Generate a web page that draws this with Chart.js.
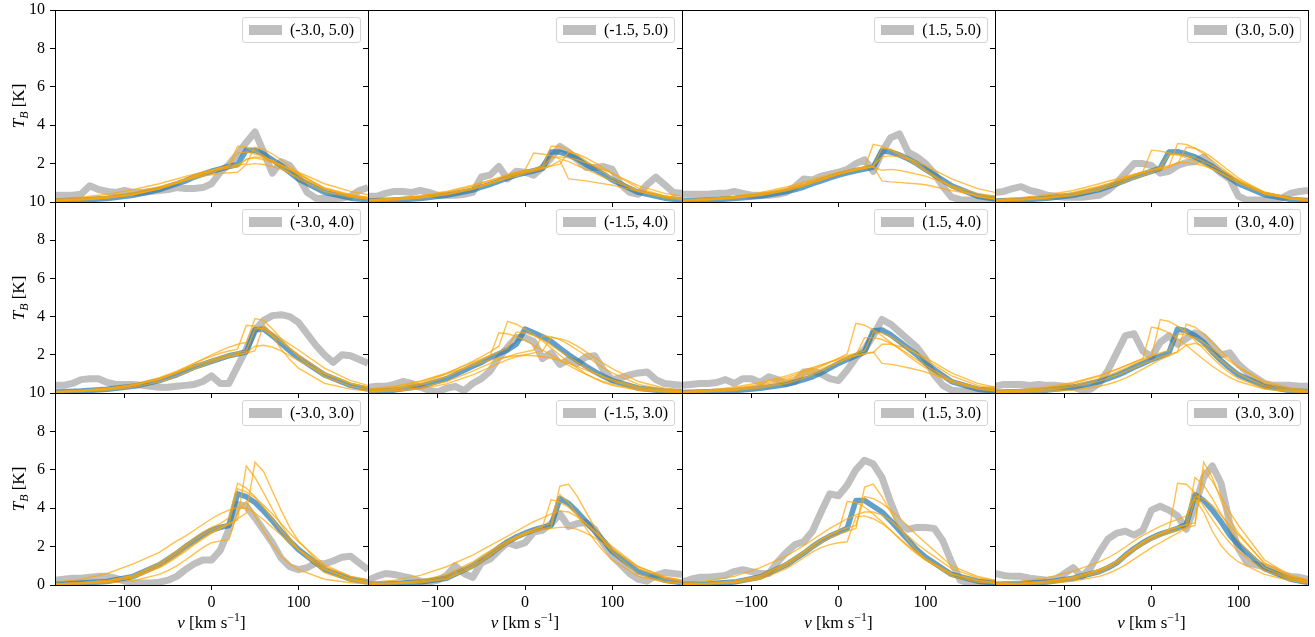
<!DOCTYPE html>
<html>
<head>
<meta charset="utf-8">
<title>Brightness temperature spectra</title>
<script src="https://cdn.jsdelivr.net/npm/chart.js@4.4.1/dist/chart.umd.min.js"></script>
<style>
html, body { margin: 0; padding: 0; background: #fff; }
body { position: relative; width: 1315px; height: 637px; overflow: hidden; font-family: "Liberation Serif", "DejaVu Serif", serif; color: #000; }
canvas { position: absolute; }
.lg { position: absolute; box-sizing: border-box; height: 26px; padding: 0 6px; display: flex; align-items: center; border: 1px solid #d4d4d4; border-radius: 3px; background: rgba(255,255,255,0.8); font-size: 16px; white-space: nowrap; z-index: 5; }
.lg .patch { width: 33px; height: 10px; background: #bfbfbf; margin-right: 8px; }
.yl { position: absolute; left: 18px; transform: translate(-50%, -50%) rotate(-90deg); font-size: 17px; white-space: nowrap; z-index: 5; line-height: 1; }
.xl { position: absolute; top: 622px; transform: translate(-50%, -50%); font-size: 17px; white-space: nowrap; z-index: 5; line-height: 1; }
sub, sup { font-size: 70%; line-height: 0; }
</style>
</head>
<body>
<script>
// velocity grids
const vData = [-180,-170,-160,-150,-140,-130,-120,-110,-100,-90,-80,-70,-60,-50,-40,-30,-20,-10,0,10,20,30,40,50,60,70,80,90,100,110,120,130,140,150,160,170,180];
const vModel = [-180,-150,-120,-90,-60,-50,-40,-30,-20,-10,0,10,20,30,40,50,60,70,80,90,100,130,160,180];
const xTicks = [-100, 0, 100];
const yTicks = [0, 2, 4, 6, 8, 10];
const positions = ["(-3.0, 5.0)", "(-1.5, 5.0)", "(1.5, 5.0)", "(3.0, 5.0)",
                   "(-3.0, 4.0)", "(-1.5, 4.0)", "(1.5, 4.0)", "(3.0, 4.0)",
                   "(-3.0, 3.0)", "(-1.5, 3.0)", "(1.5, 3.0)", "(3.0, 3.0)"];

// observed spectra (grey)
const obs00 = [0.35,0.35,0.35,0.4,0.85,0.65,0.55,0.5,0.6,0.5,0.5,0.55,0.6,0.65,0.75,0.7,0.7,0.75,0.95,1.55,1.95,2.5,3.1,3.65,2.6,1.5,2.1,1.9,1.3,0.5,0.2,0.18,0.18,0.2,0.3,0.6,0.75];
const obs01 = [0.3,0.3,0.45,0.55,0.55,0.5,0.6,0.5,0.35,0.35,0.35,0.4,0.5,1.3,1.4,1.85,1.2,1.6,1.55,1.4,1.8,2.3,2.9,2.6,2.2,1.8,1.8,1.85,1.7,0.9,0.5,0.4,0.9,1.3,0.9,0.5,0.45];
const obs02 = [0.4,0.4,0.4,0.4,0.45,0.45,0.55,0.45,0.35,0.35,0.35,0.4,0.5,0.8,1.2,1.15,1.35,1.45,1.55,1.7,2.0,2.2,1.6,2.6,3.35,3.55,2.6,2.35,2.0,1.5,0.8,0.25,0.12,0.1,0.1,0.12,0.2];
const obs03 = [0.5,0.55,0.7,0.8,0.6,0.5,0.35,0.3,0.25,0.25,0.25,0.3,0.35,0.6,1.0,1.5,2.0,2.0,1.9,1.5,1.6,1.9,2.05,2.1,2.35,1.9,1.5,1.2,0.3,0.1,0.1,0.1,0.12,0.2,0.45,0.55,0.6];
const obs10 = [0.4,0.4,0.5,0.7,0.75,0.75,0.55,0.45,0.45,0.45,0.4,0.35,0.3,0.3,0.35,0.4,0.45,0.6,0.9,0.5,0.5,1.4,2.3,3.3,3.8,4.05,4.1,4.0,3.7,3.1,2.5,2.0,1.6,2.0,1.95,1.75,1.55];
const obs11 = [0.3,0.35,0.35,0.45,0.6,0.5,0.3,0.15,0.05,0.25,0.35,0.12,0.5,0.75,1.15,1.85,2.4,2.9,2.9,2.7,1.8,2.1,1.5,1.75,1.55,1.9,1.95,1.2,0.7,0.8,0.95,1.05,1.1,0.7,0.5,0.45,0.4];
const obs12 = [0.4,0.45,0.5,0.5,0.55,0.7,0.5,0.75,0.75,0.55,0.85,0.7,0.5,0.6,1.1,1.15,1.0,0.75,0.65,1.2,1.85,2.3,3.0,3.85,3.6,3.2,2.8,2.4,1.8,0.95,0.4,0.15,0.1,0.1,0.1,0.15,0.2];
const obs13 = [0.35,0.45,0.45,0.45,0.4,0.45,0.4,0.4,0.35,0.3,0.15,0.2,0.5,1.2,2.1,3.0,3.1,2.2,1.9,2.65,3.0,2.55,2.85,3.15,2.95,2.5,2.0,2.1,1.5,1.1,0.8,0.5,0.4,0.4,0.4,0.35,0.35];
const obs20 = [0.25,0.3,0.35,0.35,0.4,0.45,0.45,0.35,0.2,0.1,0.1,0.1,0.15,0.25,0.45,0.8,1.1,1.3,1.3,1.8,2.9,4.2,4.1,3.5,2.85,2.2,1.4,0.95,0.8,0.9,1.15,1.1,1.25,1.45,1.5,1.15,0.8];
const obs21 = [0.25,0.45,0.6,0.55,0.45,0.35,0.2,0.15,0.25,0.5,1.0,0.6,0.4,1.15,1.35,1.8,2.2,2.05,2.2,2.75,2.85,3.2,3.7,3.05,3.2,3.25,2.9,2.15,1.5,1.05,0.6,0.3,0.2,0.5,0.65,0.6,0.55];
const obs22 = [0.15,0.3,0.4,0.4,0.45,0.5,0.7,0.8,0.7,0.6,0.6,1.2,1.7,2.1,2.25,2.8,3.8,4.75,4.65,5.2,6.0,6.5,6.3,5.6,4.3,3.2,2.9,3.0,3.0,2.95,2.3,1.2,0.25,0.1,0.1,0.1,0.1];
const obs23 = [0.6,0.5,0.45,0.45,0.35,0.3,0.25,0.3,0.6,0.9,0.45,0.9,1.7,2.4,2.7,2.8,2.6,2.85,3.9,4.1,3.9,3.6,2.9,4.1,5.6,6.2,5.3,3.2,1.9,1.15,1.05,0.95,0.8,0.55,0.45,0.4,0.3];

// best model (blue)
const fit00 = [0.05,0.1,0.18,0.35,0.65,0.8,0.95,1.1,1.3,1.45,1.6,1.72,1.85,1.95,2.7,2.7,2.5,2.2,1.9,1.55,1.2,0.5,0.2,0.12];
const fit01 = [0.05,0.1,0.18,0.35,0.62,0.78,0.92,1.08,1.25,1.4,1.52,1.63,1.75,2.6,2.6,2.45,2.25,1.95,1.7,1.45,1.15,0.5,0.2,0.1];
const fit02 = [0.05,0.1,0.18,0.3,0.55,0.65,0.78,0.95,1.1,1.25,1.4,1.52,1.63,1.72,1.82,2.65,2.6,2.45,2.25,2.0,1.7,0.85,0.3,0.15];
const fit03 = [0.05,0.1,0.2,0.35,0.65,0.8,0.95,1.12,1.3,1.45,1.6,1.75,2.6,2.62,2.5,2.35,2.1,1.85,1.55,1.25,0.95,0.38,0.13,0.08];
const fit10 = [0.05,0.1,0.2,0.35,0.65,0.8,0.95,1.15,1.35,1.5,1.65,1.8,1.95,2.05,2.15,3.3,3.35,3.0,2.6,2.2,1.85,0.95,0.4,0.2];
const fit11 = [0.08,0.15,0.35,0.75,1.4,1.6,1.85,2.05,2.25,2.55,3.35,3.15,2.95,2.7,2.35,2.0,1.7,1.4,1.12,0.87,0.65,0.25,0.1,0.06];
const fit12 = [0.03,0.06,0.12,0.25,0.45,0.57,0.7,0.85,1.05,1.3,1.55,1.75,1.95,2.15,3.25,3.3,3.05,2.7,2.35,2.0,1.55,0.6,0.2,0.1];
const fit13 = [0.04,0.08,0.15,0.3,0.6,0.75,0.92,1.12,1.35,1.55,1.75,1.92,2.1,3.35,3.25,3.0,2.65,2.15,1.7,1.3,0.95,0.35,0.12,0.07];
const fit20 = [0.05,0.1,0.18,0.45,1.05,1.35,1.65,2.0,2.3,2.6,2.85,3.0,3.1,4.75,4.6,4.3,3.85,3.35,2.8,2.3,1.85,0.8,0.3,0.15];
const fit21 = [0.04,0.08,0.15,0.35,1.0,1.3,1.6,1.95,2.25,2.5,2.7,2.87,3.0,3.1,4.5,4.25,3.8,3.3,2.8,2.3,1.75,0.7,0.25,0.12];
const fit22 = [0.03,0.07,0.15,0.42,1.05,1.35,1.65,2.0,2.3,2.55,2.75,2.95,4.4,4.4,4.1,3.8,3.35,2.85,2.35,1.85,1.45,0.55,0.2,0.1];
const fit23 = [0.04,0.08,0.15,0.35,0.7,0.9,1.15,1.55,1.9,2.2,2.45,2.65,2.8,2.95,3.15,4.7,4.4,3.9,3.3,2.6,2.1,0.85,0.3,0.13];

// posterior draws (orange)
const draws00 = [
  [0.08,0.14,0.25,0.45,0.75,0.9,1.05,1.2,1.38,1.52,1.65,1.78,1.9,2.9,2.85,2.65,2.4,2.1,1.8,1.5,1.2,0.55,0.25,0.15],
  [0.15,0.25,0.4,0.65,0.95,1.08,1.2,1.33,1.45,1.55,1.65,1.72,1.78,1.82,2.25,2.3,2.2,2.05,1.9,1.72,1.55,0.95,0.55,0.38],
  [0.1,0.18,0.3,0.5,0.8,0.92,1.03,1.15,1.25,1.35,1.42,1.48,1.52,1.55,1.95,2.0,1.95,1.85,1.7,1.5,1.3,0.7,0.35,0.22],
  [0.06,0.11,0.2,0.38,0.68,0.82,0.97,1.12,1.28,1.42,1.55,1.68,1.8,1.9,2.0,2.85,2.75,2.5,2.2,1.85,1.5,0.7,0.3,0.18],
  [0.07,0.13,0.22,0.4,0.7,0.85,1.0,1.15,1.32,1.48,1.62,1.75,1.88,2.55,2.6,2.5,2.35,2.15,1.92,1.68,1.42,0.75,0.38,0.25],
  [0.05,0.1,0.2,0.38,0.7,0.85,1.0,1.17,1.35,1.5,1.65,1.78,1.88,1.95,2.2,2.35,2.3,2.15,1.95,1.7,1.45,0.7,0.3,0.18]
];
const draws01 = [
  [0.06,0.12,0.22,0.4,0.7,0.85,1.0,1.15,1.32,1.47,1.6,1.72,1.85,2.9,2.9,2.7,2.45,2.15,1.85,1.55,1.25,0.55,0.22,0.12],
  [0.1,0.18,0.3,0.5,0.82,0.97,1.12,1.27,1.42,1.55,1.67,2.55,2.5,2.4,2.25,2.1,1.9,1.7,1.5,1.3,1.1,0.6,0.3,0.18],
  [0.08,0.15,0.27,0.45,0.72,0.85,0.98,1.1,1.22,1.35,1.48,1.6,1.72,1.9,2.15,1.2,1.15,1.1,1.02,0.95,0.88,0.55,0.3,0.2],
  [0.12,0.2,0.33,0.55,0.88,1.0,1.13,1.25,1.38,1.5,1.6,1.7,1.78,2.3,2.35,2.3,2.2,2.05,1.88,1.68,1.48,0.85,0.45,0.3],
  [0.05,0.1,0.2,0.37,0.66,0.8,0.95,1.1,1.27,1.42,1.55,1.66,1.77,1.87,1.97,2.6,2.5,2.3,2.05,1.78,1.5,0.72,0.32,0.18]
];
const draws02 = [
  [0.06,0.12,0.22,0.36,0.62,0.74,0.88,1.03,1.18,1.33,1.47,1.6,1.72,1.82,3.0,2.9,2.7,2.45,2.2,1.9,1.6,0.75,0.28,0.14],
  [0.1,0.18,0.3,0.48,0.78,0.9,1.03,1.17,1.3,1.43,1.55,1.65,1.74,1.82,1.9,2.35,2.4,2.35,2.25,2.1,1.9,1.2,0.7,0.5],
  [0.08,0.14,0.25,0.42,0.7,0.82,0.95,1.08,1.22,1.35,1.47,1.57,1.66,1.74,1.82,1.65,1.7,1.65,1.55,1.45,1.35,0.85,0.45,0.3],
  [0.07,0.13,0.23,0.4,0.66,0.78,0.9,1.04,1.18,1.32,1.45,1.57,1.68,1.78,1.85,1.1,1.05,1.02,0.98,0.95,0.9,0.6,0.35,0.22],
  [0.05,0.1,0.19,0.33,0.58,0.7,0.83,0.98,1.13,1.28,1.42,1.55,1.67,1.77,1.87,2.8,2.75,2.55,2.3,2.0,1.68,0.8,0.3,0.15]
];
const draws03 = [
  [0.07,0.13,0.25,0.45,0.78,0.93,1.08,1.25,1.42,1.58,2.7,2.65,2.55,2.45,2.3,2.15,1.95,1.72,1.48,1.22,0.98,0.42,0.16,0.09],
  [0.05,0.1,0.19,0.34,0.62,0.76,0.9,1.05,1.22,1.38,1.53,1.68,1.82,3.05,3.0,2.8,2.5,2.15,1.8,1.45,1.12,0.42,0.15,0.08],
  [0.12,0.22,0.38,0.6,0.95,1.08,1.2,1.33,1.45,1.55,1.65,1.75,1.82,2.05,2.05,2.0,1.88,1.72,1.52,1.3,1.08,0.5,0.2,0.12],
  [0.08,0.15,0.28,0.5,0.82,0.96,1.1,1.25,1.4,1.55,1.68,1.8,2.45,2.5,2.42,2.3,2.12,1.9,1.66,1.4,1.15,0.52,0.22,0.13],
  [0.06,0.11,0.21,0.38,0.7,0.85,1.0,1.17,1.35,1.5,1.65,1.78,1.9,2.0,2.85,2.8,2.6,2.3,1.95,1.6,1.25,0.48,0.17,0.1]
];
const draws10 = [
  [0.05,0.1,0.2,0.38,0.72,0.9,1.1,1.32,1.55,1.78,2.0,2.2,2.4,2.55,2.65,3.9,3.8,3.35,2.85,2.35,1.9,0.85,0.35,0.18],
  [0.08,0.14,0.25,0.45,0.8,0.97,1.15,1.35,1.55,1.75,1.92,2.08,2.2,2.3,3.55,3.5,3.3,3.0,2.7,2.35,2.0,1.05,0.5,0.3],
  [0.06,0.12,0.22,0.4,0.72,0.88,1.05,1.22,1.4,1.55,1.7,1.82,1.92,2.0,2.1,2.45,2.5,2.4,2.2,1.95,1.7,1.0,0.5,0.3],
  [0.04,0.08,0.16,0.3,0.58,0.72,0.88,1.05,1.25,1.42,1.6,1.75,1.9,2.0,2.1,2.2,3.6,3.0,2.3,1.75,1.3,0.5,0.2,0.1],
  [0.07,0.13,0.24,0.42,0.75,0.9,1.07,1.25,1.43,1.6,1.75,1.9,2.02,2.12,2.2,3.35,3.4,3.15,2.85,2.55,2.25,1.3,0.65,0.4]
];
const draws11 = [
  [0.1,0.22,0.5,1.0,1.65,1.9,2.15,2.45,3.75,3.6,3.35,3.05,2.72,2.35,1.98,1.62,1.3,1.0,0.75,0.55,0.4,0.14,0.05,0.03],
  [0.15,0.3,0.6,1.05,1.6,1.78,1.95,3.15,3.1,2.95,2.75,2.5,2.25,2.0,1.72,1.45,1.2,0.98,0.78,0.6,0.45,0.18,0.07,0.04],
  [0.05,0.1,0.22,0.48,0.95,1.15,1.35,1.55,1.75,1.9,2.0,2.1,2.2,2.9,2.85,2.7,2.45,2.15,1.85,1.55,1.28,0.6,0.25,0.14],
  [0.2,0.35,0.62,1.0,1.45,1.6,1.72,1.82,1.9,1.95,1.98,1.95,1.9,1.82,1.7,1.55,1.38,1.2,1.02,0.85,0.7,0.32,0.14,0.08],
  [0.06,0.12,0.28,0.6,1.15,1.35,1.55,1.75,1.9,2.05,2.15,2.25,3.0,2.95,2.8,2.55,2.25,1.95,1.62,1.32,1.05,0.45,0.18,0.1],
  [0.1,0.2,0.42,0.85,1.5,1.72,1.95,2.15,2.35,3.2,3.15,3.0,2.78,2.5,2.2,1.9,1.6,1.32,1.06,0.83,0.63,0.25,0.1,0.06]
];
const draws12 = [
  [0.05,0.1,0.2,0.4,0.7,0.85,1.0,1.18,1.38,1.6,1.82,2.05,3.65,3.55,3.3,3.0,2.65,2.3,1.95,1.62,1.32,0.55,0.2,0.1],
  [0.06,0.12,0.24,0.45,0.8,0.95,1.1,1.27,1.45,1.63,1.8,1.95,2.08,2.2,3.2,3.15,2.95,2.65,2.35,2.05,1.75,0.9,0.4,0.22],
  [0.08,0.16,0.3,0.55,0.9,1.04,1.18,1.33,1.48,1.62,1.75,1.87,1.97,2.05,2.12,2.55,2.55,2.45,2.28,2.08,1.85,1.05,0.5,0.3],
  [0.04,0.08,0.16,0.32,0.6,0.74,0.9,1.06,1.25,1.45,1.63,1.8,1.95,2.07,2.15,1.55,1.5,1.42,1.32,1.22,1.1,0.65,0.3,0.18],
  [0.03,0.06,0.13,0.27,0.5,0.63,0.78,0.95,1.15,1.38,1.6,1.8,2.0,2.9,2.9,2.8,2.6,2.35,2.05,1.75,1.45,0.65,0.25,0.13]
];
const draws13 = [
  [0.05,0.1,0.2,0.4,0.75,0.92,1.1,1.3,1.52,1.72,1.9,3.85,3.75,3.5,3.15,2.75,2.3,1.85,1.42,1.05,0.75,0.25,0.08,0.04],
  [0.04,0.08,0.16,0.32,0.62,0.77,0.93,1.12,1.32,1.52,1.7,1.87,2.02,2.15,3.6,3.45,3.1,2.65,2.2,1.75,1.35,0.5,0.18,0.1],
  [0.07,0.14,0.27,0.5,0.88,1.05,1.22,1.42,1.62,1.8,3.45,3.35,3.15,2.85,2.5,2.12,1.75,1.4,1.1,0.82,0.6,0.2,0.07,0.04],
  [0.02,0.04,0.08,0.16,0.35,0.46,0.6,0.78,1.0,1.25,1.5,1.75,1.95,2.15,2.5,2.6,2.45,2.1,1.7,1.32,1.0,0.38,0.14,0.08],
  [0.1,0.18,0.32,0.55,0.92,1.08,1.25,1.43,1.62,1.8,1.95,2.1,2.22,3.1,3.05,2.9,2.65,2.32,1.98,1.65,1.35,0.6,0.25,0.14]
];
const draws20 = [
  [0.04,0.08,0.16,0.38,0.9,1.15,1.45,1.75,2.1,2.4,2.7,2.95,3.2,3.45,3.75,6.4,5.9,4.9,3.9,3.0,2.3,0.85,0.3,0.14],
  [0.04,0.08,0.16,0.4,0.95,1.22,1.52,1.85,2.15,2.45,2.75,2.95,3.15,3.4,6.2,5.6,4.8,3.95,3.15,2.45,1.85,0.65,0.22,0.1],
  [0.06,0.12,0.22,0.5,1.15,1.45,1.78,2.1,2.45,2.75,3.0,3.2,3.5,5.3,5.05,4.6,4.05,3.45,2.85,2.3,1.85,0.8,0.32,0.16],
  [0.15,0.3,0.6,1.1,1.7,2.0,2.3,2.55,2.85,3.15,3.45,3.7,3.9,4.05,4.0,3.75,3.4,3.0,2.6,2.2,1.85,0.95,0.45,0.28],
  [0.03,0.06,0.1,0.22,0.55,0.75,1.0,1.3,1.62,1.95,2.2,2.3,2.35,3.8,4.35,3.6,2.8,2.1,1.5,1.1,0.8,0.3,0.12,0.06],
  [0.06,0.12,0.22,0.48,1.05,1.35,1.66,2.0,2.32,2.62,2.88,3.05,3.2,5.0,4.85,4.55,4.15,3.7,3.2,2.7,2.25,1.05,0.45,0.25]
];
const draws21 = [
  [0.04,0.08,0.15,0.36,0.98,1.27,1.58,1.9,2.2,2.47,2.7,2.9,3.05,3.2,5.15,5.25,4.6,3.8,3.0,2.3,1.7,0.55,0.18,0.08],
  [0.05,0.1,0.2,0.45,1.1,1.4,1.7,2.0,2.28,2.52,2.72,2.88,3.02,4.45,4.3,4.05,3.65,3.2,2.75,2.3,1.9,0.85,0.35,0.18],
  [0.06,0.12,0.24,0.55,1.2,1.5,1.78,2.05,2.3,2.5,2.65,2.78,2.88,2.95,3.0,3.0,2.9,2.7,2.45,2.15,1.85,0.95,0.42,0.25],
  [0.12,0.25,0.5,0.95,1.55,1.8,2.05,2.3,2.55,2.8,3.05,3.3,3.5,3.7,3.85,3.8,3.55,3.2,2.8,2.4,2.0,0.95,0.42,0.25],
  [0.03,0.06,0.12,0.3,0.9,1.2,1.52,1.85,2.15,2.42,2.62,2.8,2.92,3.02,4.7,4.3,3.65,2.95,2.3,1.75,1.3,0.45,0.15,0.07]
];
const draws22 = [
  [0.03,0.06,0.13,0.38,1.0,1.3,1.6,1.92,2.2,2.45,2.65,2.8,2.95,5.1,5.25,4.6,3.8,3.0,2.35,1.8,1.35,0.45,0.15,0.08],
  [0.04,0.08,0.17,0.45,1.1,1.4,1.72,2.05,2.35,2.6,2.8,4.35,4.3,4.05,3.7,3.3,2.85,2.4,2.0,1.62,1.3,0.55,0.22,0.12],
  [0.02,0.05,0.1,0.3,0.85,1.12,1.42,1.72,1.95,2.1,2.2,2.25,3.55,3.6,3.45,3.2,2.85,2.45,2.05,1.7,1.38,0.6,0.25,0.13],
  [0.1,0.22,0.45,0.9,1.5,1.78,2.05,2.35,2.65,2.95,3.2,3.45,3.65,3.8,3.8,3.65,3.35,2.95,2.55,2.15,1.8,0.85,0.38,0.22],
  [0.05,0.1,0.2,0.5,1.15,1.45,1.75,2.08,2.38,2.62,2.82,2.98,3.1,4.6,4.5,4.25,3.9,3.5,3.05,2.6,2.2,1.0,0.45,0.25]
];
const draws23 = [
  [0.03,0.06,0.12,0.3,0.65,0.85,1.08,1.45,1.8,2.1,2.35,2.55,2.72,2.85,2.98,3.1,6.4,5.6,4.4,3.4,2.7,1.1,0.4,0.18],
  [0.05,0.1,0.2,0.42,0.8,1.0,1.25,1.6,1.95,2.25,2.5,2.7,2.88,3.02,3.15,5.6,5.2,4.5,3.7,2.95,2.3,0.9,0.35,0.16],
  [0.04,0.08,0.16,0.36,0.75,0.95,1.2,1.55,1.9,2.2,2.45,2.65,2.8,5.3,5.25,4.8,4.1,3.4,2.75,2.2,1.75,0.75,0.3,0.14],
  [0.02,0.04,0.08,0.2,0.45,0.6,0.8,1.05,1.35,1.65,1.95,2.2,2.45,2.7,2.95,4.5,3.8,2.8,2.05,1.55,1.2,0.55,0.22,0.1],
  [0.05,0.1,0.2,0.4,0.78,0.98,1.22,1.58,1.92,2.22,2.48,2.68,2.85,3.0,3.12,3.25,6.0,5.4,4.6,3.8,3.1,1.3,0.5,0.25],
  [0.1,0.2,0.38,0.72,1.2,1.42,1.68,1.98,2.3,2.58,2.82,3.05,3.25,3.42,3.6,4.6,4.5,4.15,3.65,3.1,2.6,1.15,0.48,0.25]
];

const panels = [
  { obs: obs00, fit: fit00, draws: draws00 }, { obs: obs01, fit: fit01, draws: draws01 },
  { obs: obs02, fit: fit02, draws: draws02 }, { obs: obs03, fit: fit03, draws: draws03 },
  { obs: obs10, fit: fit10, draws: draws10 }, { obs: obs11, fit: fit11, draws: draws11 },
  { obs: obs12, fit: fit12, draws: draws12 }, { obs: obs13, fit: fit13, draws: draws13 },
  { obs: obs20, fit: fit20, draws: draws20 }, { obs: obs21, fit: fit21, draws: draws21 },
  { obs: obs22, fit: fit22, draws: draws22 }, { obs: obs23, fit: fit23, draws: draws23 }
];

const FONT = '"Liberation Serif", "DejaVu Serif", serif';
const colEdges = [55, 368, 682, 995, 1308];
const rowEdges = [10, 202, 393, 585];
const PAD_L = 50, PAD_R = 10, PAD_T = 22, PAD_B = 40;

const fmt = v => v < 0 ? '\u2212' + (-v) : String(v);
const pts = (xs, ys) => xs.map((x, i) => ({ x: x, y: ys[i] }));

// draw the four spines of each axes box
const frame = {
  id: 'frame',
  afterDraw(chart) {
    const a = chart.chartArea, ctx = chart.ctx;
    ctx.save();
    ctx.strokeStyle = '#000';
    ctx.lineWidth = 1;
    ctx.strokeRect(a.left + 0.5, a.top + 0.5, a.right - a.left, a.bottom - a.top);
    ctx.restore();
  }
};

panels.forEach(function(p, k) {
  const r = Math.floor(k / 4), c = k % 4;
  const x0 = colEdges[c], x1 = colEdges[c + 1], y0 = rowEdges[r], y1 = rowEdges[r + 1];

  const cv = document.createElement('canvas');
  cv.width = PAD_L + (x1 - x0) + PAD_R;
  cv.height = PAD_T + (y1 - y0) + PAD_B;
  cv.style.left = (x0 - PAD_L) + 'px';
  cv.style.top = (y0 - PAD_T) + 'px';
  document.body.appendChild(cv);

  const datasets = [
    { data: pts(vData, p.obs), borderColor: '#bfbfbf', borderWidth: 7, borderJoinStyle: 'round', order: 3, clip: 0 },
    { data: pts(vModel, p.fit), borderColor: 'rgba(31,119,180,0.7)', borderWidth: 5.5, borderJoinStyle: 'round', order: 2, clip: 0 }
  ];
  p.draws.forEach(function(d) {
    datasets.push({ data: pts(vModel, d), borderColor: 'rgba(255,165,0,0.7)', borderWidth: 1.4, order: 1, clip: 0 });
  });

  new Chart(cv, {
    type: 'line',
    data: { datasets: datasets },
    options: {
      responsive: false,
      animation: false,
      devicePixelRatio: 1,
      layout: { padding: { left: 0, right: PAD_R, top: PAD_T, bottom: 0 } },
      plugins: { legend: { display: false }, tooltip: { enabled: false } },
      elements: { point: { radius: 0 }, line: { tension: 0, fill: false } },
      scales: {
        x: {
          type: 'linear', min: -180, max: 180,
          afterBuildTicks: s => { s.ticks = xTicks.map(v => ({ value: v })); },
          afterFit: s => { s.height = PAD_B; },
          ticks: { display: r === 2, padding: 3, color: '#000', autoSkip: false, maxRotation: 0,
                   font: { family: FONT, size: 16 }, callback: v => fmt(v) },
          grid: { display: true, drawOnChartArea: false, drawTicks: true, tickLength: 5, color: '#000', lineWidth: 1 },
          border: { display: false }
        },
        y: {
          type: 'linear', min: 0, max: 10,
          afterBuildTicks: s => { s.ticks = yTicks.map(v => ({ value: v })); },
          afterFit: s => { s.width = PAD_L; },
          ticks: { display: c === 0, padding: 5, color: '#000', autoSkip: false,
                   font: { family: FONT, size: 16 },
                   // the "0" of the upper rows sits under the "10" of the row below
                   callback: v => (v === 0 && r < 2) ? '' : fmt(v) },
          grid: { display: true, drawOnChartArea: false, drawTicks: true, tickLength: 5, color: '#000', lineWidth: 1 },
          border: { display: false }
        }
      }
    },
    plugins: [frame]
  });

  // legend box in the upper right corner
  const lg = document.createElement('div');
  lg.className = 'lg';
  lg.style.right = (1315 - (x1 - 7)) + 'px';
  lg.style.top = (y0 + 7) + 'px';
  lg.innerHTML = '<span class="patch"></span><span>' + positions[k] + '</span>';
  document.body.appendChild(lg);
});

// axis labels
for (let r = 0; r < 3; r++) {
  const d = document.createElement('div');
  d.className = 'yl';
  d.style.top = ((rowEdges[r] + rowEdges[r + 1]) / 2) + 'px';
  d.innerHTML = '<i>T</i><sub><i>B</i></sub> [K]';
  document.body.appendChild(d);
}
for (let c = 0; c < 4; c++) {
  const d = document.createElement('div');
  d.className = 'xl';
  d.style.left = ((colEdges[c] + colEdges[c + 1]) / 2) + 'px';
  d.innerHTML = '<i>v</i> [km s<sup>\u22121</sup>]';
  document.body.appendChild(d);
}
</script>
</body>
</html>
